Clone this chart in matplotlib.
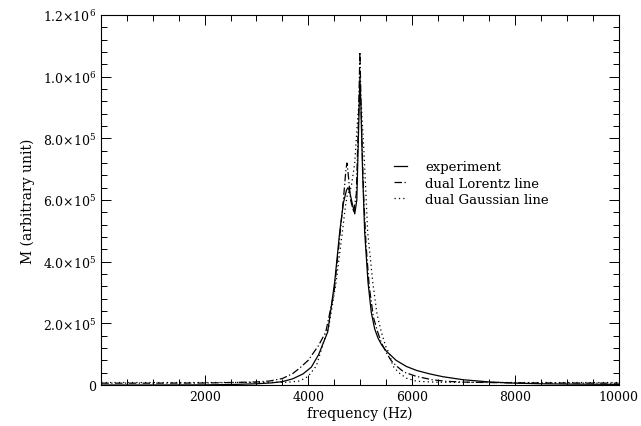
import matplotlib
matplotlib.use('Agg')
from matplotlib import pyplot as plt
from matplotlib.ticker import MultipleLocator

# experiment (solid)
exp_freq = [0, 1000, 2000, 2500, 3000, 3300, 3500, 3700, 3900, 4061, 4200, 4377,
            4512, 4609, 4680, 4740, 4770, 4800, 4850, 4900, 4940, 4970, 5000,
            5020, 5050, 5092, 5156, 5220, 5285, 5350, 5420, 5510, 5700, 5900, 6100,
            6350, 6600, 7000, 7500, 8000, 8500, 9000, 10000]
exp_val = [0, 0, 500, 1500, 4000, 7000, 11000, 20000, 36000, 58000, 98000, 172000,
           334000, 496000, 590000, 632000, 640000, 628000, 590000, 555000, 600000, 800000, 1000000,
           900000, 700000, 496000, 334000, 235000, 182000, 152000, 130000, 110000, 80000, 60000, 47000,
           36000, 27000, 17000, 10000, 6000, 4000, 3000, 2000]

# dual Lorentz fit (dash-dot)
lor_freq = [0, 1000, 2000, 2500, 3000, 3256, 3500, 3700, 3836, 4000, 4200, 4340,
            4500, 4609, 4680, 4730, 4750, 4770, 4820, 4880, 4930, 4970, 5000,
            5030, 5070, 5120, 5180, 5260, 5343, 5420, 5510, 5600, 5704, 5850,
            6090, 6400, 6670, 7000, 7500, 8000, 9000, 10000]
lor_val = [6000, 6000, 6500, 8000, 10000, 13000, 21000, 37000, 55000, 80000, 128000, 172000,
           300000, 480000, 600000, 700000, 720000, 690000, 600000, 560000, 620000, 850000, 1080000,
           850000, 620000, 450000, 320000, 220000, 172000, 135000, 105000, 80000, 62000, 42000,
           28000, 17000, 12000, 9500, 8000, 7000, 6500, 6000]

# dual Gaussian fit (dotted)
gau_freq = [0, 1000, 2000, 3000, 3600, 3836, 4000, 4158, 4300, 4400, 4540, 4660,
            4720, 4760, 4830, 4900, 4950, 4990, 5030, 5080, 5150, 5248, 5330,
            5413, 5500, 5574, 5635, 5750, 5900, 6100, 6500, 7000, 8000, 10000]
gau_val = [8000, 8000, 8000, 8500, 9000, 13000, 28000, 62000, 140000, 190000, 334000, 496000,
           580000, 620000, 640000, 720000, 850000, 930000, 900000, 750000, 496000, 334000, 230000,
           172000, 125000, 100000, 62000, 40000, 22000, 12000, 9000, 8500, 8000, 8000]

y_ticks = [0, 2e5, 4e5, 6e5, 8e5, 1e6, 1.2e6]
y_labels = ['0', r'2.0$\times$10$^{5}$', r'4.0$\times$10$^{5}$', r'6.0$\times$10$^{5}$',
            r'8.0$\times$10$^{5}$', r'1.0$\times$10$^{6}$', r'1.2$\times$10$^{6}$']
x_ticks = [2000, 4000, 6000, 8000, 10000]

plt.rcParams['font.family'] = 'DejaVu Serif'
plt.rcParams['mathtext.fontset'] = 'dejavuserif'

fig = plt.figure(figsize=(6.41, 4.27), dpi=100)
ax = fig.add_axes([0.158, 0.096, 0.807, 0.8665])

ax.plot(exp_freq, exp_val, color='black', lw=0.9, ls='-', label='experiment')
ax.plot(lor_freq, lor_val, color='black', lw=0.9, ls=(0, (6, 2, 1, 2)), label='dual Lorentz line')
ax.plot(gau_freq, gau_val, color='black', lw=0.9, ls=(0, (1, 2.5)), label='dual Gaussian line')

ax.set_xlim(0, 10000)
ax.set_ylim(0, 1.2e6)
ax.set_xticks(x_ticks)
ax.set_xticklabels([str(t) for t in x_ticks])
ax.set_yticks(y_ticks)
ax.set_yticklabels(y_labels)
ax.xaxis.set_minor_locator(MultipleLocator(500))
ax.yaxis.set_minor_locator(MultipleLocator(4e4))
ax.tick_params(which='both', direction='in', top=True, right=True, labelsize=9, width=0.7)
ax.tick_params(which='major', length=7)
ax.tick_params(which='minor', length=4)
for s in ax.spines.values():
    s.set_linewidth(0.8)

ax.set_xlabel('frequency (Hz)', fontsize=10, labelpad=2)
ax.set_ylabel('M (arbitrary unit)', fontsize=10, labelpad=6)

ax.legend(loc='upper left', bbox_to_anchor=(0.553, 0.625), frameon=False, fontsize=9.5,
          handlelength=1.0, handletextpad=1.35, labelspacing=0.25, borderpad=0)

fig.savefig('out.png', dpi=100)
